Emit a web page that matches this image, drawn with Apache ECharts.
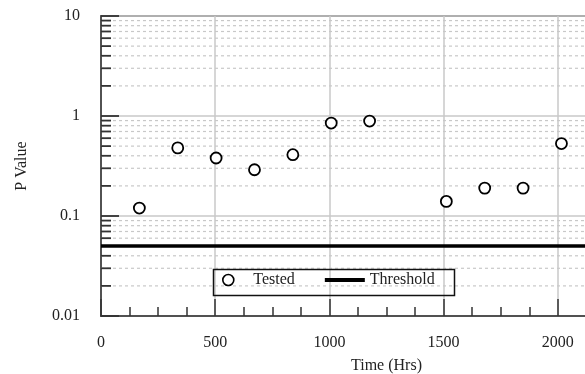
<!DOCTYPE html>
<html>
<head>
<meta charset="utf-8">
<script src="https://cdn.jsdelivr.net/npm/echarts@6/dist/echarts.min.js"></script>
<style>
  html, body { margin: 0; padding: 0; background: #fff; }
  #chart { width: 585px; height: 374px; }
</style>
</head>
<body>
<div id="chart"></div>
<script>
// Weekly test times (hours) and the measured p values
const timeHrs = [168, 336, 504, 672, 840, 1008, 1176, 1512, 1680, 1848, 2016];
const pValues = [0.12, 0.48, 0.38, 0.29, 0.41, 0.85, 0.89, 0.14, 0.19, 0.19, 0.53];
const threshold = 0.05;
const thresholdSpan = [0, 2500];
const xTicks = [0, 500, 1000, 1500, 2000];
// minor log gridlines (2..9 within each decade)
const minorLogValues = [0.02, 0.03, 0.04, 0.05, 0.06, 0.07, 0.08, 0.09,
                        0.2, 0.3, 0.4, 0.5, 0.6, 0.7, 0.8, 0.9,
                        2, 3, 4, 5, 6, 7, 8, 9];

const FONT = '"Liberation Serif", "Times New Roman", serif';
const AXIS_COLOR = '#333';
const GRID_COLOR = '#c8c8c8';

const chart = echarts.init(document.getElementById('chart'), null, { renderer: 'canvas' });

const option = {
  animation: false,
  backgroundColor: '#fff',
  grid: {
    left: 101, top: 16, width: 571, height: 300,
    outerBoundsMode: 'none', containLabel: false,
    show: true, borderColor: AXIS_COLOR, borderWidth: 1.5,
    backgroundColor: 'transparent'
  },
  xAxis: {
    type: 'value', min: 0, max: 2500, interval: 500,
    name: 'Time (Hrs)', nameLocation: 'middle', nameGap: 42,
    nameTextStyle: { fontFamily: FONT, fontSize: 16, color: '#222' },
    axisLine: { lineStyle: { color: AXIS_COLOR, width: 1.5 } },
    axisTick: { inside: true, length: 17, lineStyle: { color: AXIS_COLOR, width: 1.5 } },
    minorTick: { show: true, splitNumber: 4, length: 9, lineStyle: { color: AXIS_COLOR, width: 1.5 } },
    splitLine: { show: true, lineStyle: { color: GRID_COLOR, width: 1.5 } },
    axisLabel: {
      margin: 19, fontFamily: FONT, fontSize: 16, color: '#222',
      formatter: v => (xTicks.indexOf(v) >= 0 ? String(v) : '')
    }
  },
  yAxis: {
    type: 'log', logBase: 10, min: 0.01, max: 10,
    name: 'P Value', nameLocation: 'middle', nameGap: 71,
    nameTextStyle: { fontFamily: FONT, fontSize: 16, color: '#222' },
    axisLine: { lineStyle: { color: AXIS_COLOR, width: 1.5 } },
    axisTick: { inside: true, length: 18, lineStyle: { color: AXIS_COLOR, width: 1.8 } },
    splitLine: { show: true, lineStyle: { color: GRID_COLOR, width: 1.5 } },
    axisLabel: { margin: 21, fontFamily: FONT, fontSize: 16, color: '#222' }
  },
  legend: {
    left: 222, top: 272, padding: 0,
    itemWidth: 40, itemHeight: 11, itemGap: 30,
    textStyle: { fontFamily: FONT, fontSize: 16, color: '#222' },
    data: [
      { name: 'Tested', icon: 'circle', itemStyle: { color: '#fff', borderColor: '#000', borderWidth: 1.6 } },
      { name: 'Threshold', icon: 'path://M0,0L40,0L40,4L0,4Z' }
    ]
  },
  graphic: [{
    type: 'rect', left: 211, top: 267, z: 100,
    shape: { width: 241, height: 26 },
    style: { fill: 'none', stroke: '#111', lineWidth: 1.5 }
  }],
  series: [
    {
      // dashed minor gridlines and short minor ticks on the log axis
      type: 'custom', name: 'minorGrid', silent: true, z: 1,
      data: minorLogValues.map(v => [0, v]),
      encode: { x: 0, y: 1 },
      renderItem: (params, api) => {
        const cs = params.coordSys;
        const p = api.coord([0, api.value(1)]);
        return {
          type: 'group',
          children: [
            {
              type: 'line',
              shape: { x1: cs.x, y1: p[1], x2: cs.x + cs.width, y2: p[1] },
              style: { stroke: GRID_COLOR, lineWidth: 1.2, lineDash: [3, 3] }
            },
            {
              type: 'line',
              shape: { x1: cs.x, y1: p[1], x2: cs.x + 10, y2: p[1] },
              style: { stroke: AXIS_COLOR, lineWidth: 1.8 }
            }
          ]
        };
      }
    },
    {
      name: 'Threshold', type: 'line', z: 3,
      data: thresholdSpan.map(t => [t, threshold]),
      showSymbol: false, symbol: 'none',
      lineStyle: { color: '#000', width: 3.5 },
      itemStyle: { color: '#000' }
    },
    {
      name: 'Tested', type: 'scatter', z: 4,
      data: timeHrs.map((t, i) => [t, pValues[i]]),
      symbol: 'circle', symbolSize: 11,
      itemStyle: { color: '#fff', borderColor: '#000', borderWidth: 1.8, opacity: 1 }
    }
  ]
};

chart.setOption(option);
</script>
</body>
</html>
